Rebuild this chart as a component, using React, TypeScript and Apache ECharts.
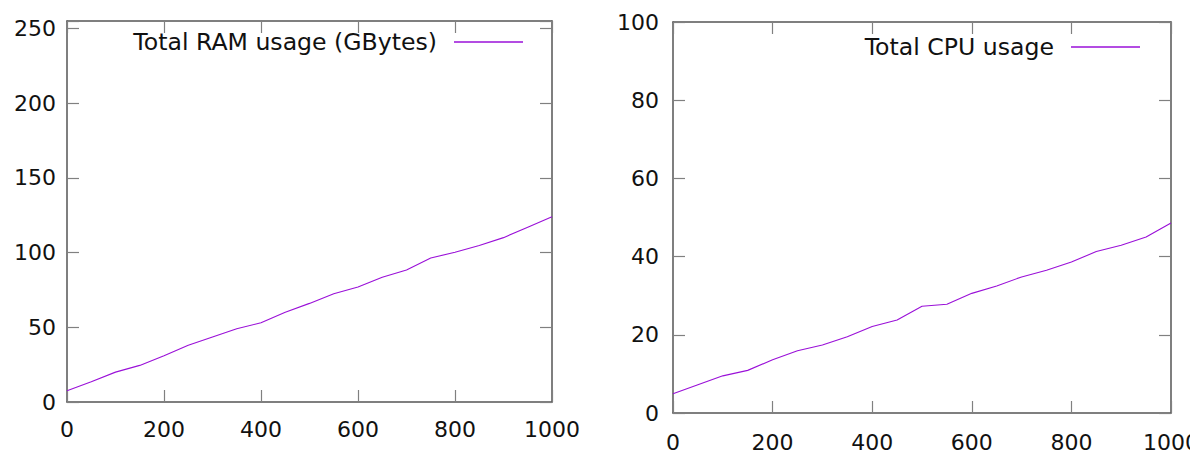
import React, { useEffect, useRef } from "react";
import * as echarts from "echarts";

const xValues = [0, 50, 100, 150, 200, 250, 300, 350, 400, 450, 500, 550, 600, 650, 700, 750, 800, 850, 900, 950, 1000];
const ramUsage = [7.5, 13.5, 20, 24.5, 31, 38, 43.5, 49, 53, 60, 66, 72.4, 77, 83.5, 88.4, 96.4, 100.2, 104.7, 110, 117, 124];
const cpuUsage = [4.9, 7.2, 9.5, 10.9, 13.6, 15.9, 17.4, 19.5, 22.1, 23.8, 27.3, 27.8, 30.6, 32.5, 34.8, 36.5, 38.6, 41.3, 42.9, 45.0, 48.6];
const ramName = "Total RAM usage (GBytes)";
const cpuName = "Total CPU usage";
const xTicks = { min: 0, max: 1000, interval: 200 };
const ramTicks = { min: 0, max: 255, interval: 50 };
const cpuTicks = { min: 0, max: 100, interval: 20 };

const FONT = "DejaVu Sans";
const LINE_COLOR = "#9a10d8";

type Cfg = {
  name: string;
  values: number[];
  yTicks: { min: number; max: number; interval: number };
  grid: { left: number; right: number; top: number; bottom: number };
  legend: { right: number; top: number };
  xLabelMargin: number;
  yLabelMargin: number;
};

function makeOption(cfg: Cfg) {
  const axisLine = { show: true, onZero: false, lineStyle: { color: "#555", width: 1.5 } };
  const axisTick = { show: true, inside: true, length: 12, lineStyle: { color: "#808080", width: 1.2 } };
  const label = { fontFamily: FONT, fontSize: 22, color: "#111" };
  const yInt = cfg.yTicks.interval;
  return {
    animation: false,
    backgroundColor: "#fff",
    grid: { ...cfg.grid, containLabel: false, outerBoundsMode: "none" },
    legend: {
      show: true,
      selectedMode: false,
      align: "right",
      right: cfg.legend.right,
      top: cfg.legend.top,
      padding: 0,
      icon: "rect",
      itemWidth: 69,
      itemHeight: 1.6,
      textStyle: { fontFamily: FONT, fontSize: 23.6, color: "#111", padding: [0, 12, 0, 0] },
      data: [cfg.name],
    },
    xAxis: [
      {
        type: "value",
        ...xTicks,
        position: "bottom",
        axisLine,
        axisTick,
        splitLine: { show: false },
        axisLabel: { ...label, margin: cfg.xLabelMargin, formatter: (v: number) => String(v) },
      },
      {
        type: "value",
        ...xTicks,
        position: "top",
        axisLine,
        axisTick,
        splitLine: { show: false },
        axisLabel: { show: false },
      },
    ],
    yAxis: [
      {
        type: "value",
        ...cfg.yTicks,
        position: "left",
        axisLine,
        axisTick,
        splitLine: { show: false },
        axisLabel: {
          ...label,
          margin: cfg.yLabelMargin,
          formatter: (v: number) => (v % yInt === 0 ? String(v) : ""),
        },
      },
      {
        type: "value",
        ...cfg.yTicks,
        position: "right",
        axisLine,
        axisTick,
        splitLine: { show: false },
        axisLabel: { show: false },
      },
    ],
    series: [
      {
        name: cfg.name,
        type: "line",
        xAxisIndex: 0,
        yAxisIndex: 0,
        data: xValues.map((x, i) => [x, cfg.values[i]]),
        symbol: "none",
        showSymbol: false,
        lineStyle: { color: LINE_COLOR, width: 1.1 },
        itemStyle: { color: LINE_COLOR },
      },
    ],
  };
}

function Chart({ cfg, style }: { cfg: Cfg; style: React.CSSProperties }) {
  const ref = useRef<HTMLDivElement>(null);
  useEffect(() => {
    if (!ref.current) return;
    const chart = echarts.init(ref.current, undefined, { renderer: "svg" });
    chart.setOption(makeOption(cfg) as any);
    return () => chart.dispose();
  }, [cfg]);
  return <div ref={ref} style={style} />;
}

const ramCfg: Cfg = {
  name: ramName,
  values: ramUsage,
  yTicks: ramTicks,
  grid: { left: 67, right: 28, top: 21, bottom: 51 },
  legend: { right: 57, top: 30 },
  xLabelMargin: 16,
  yLabelMargin: 11,
};

const cpuCfg: Cfg = {
  name: cpuName,
  values: cpuUsage,
  yTicks: cpuTicks,
  grid: { left: 73, right: 19, top: 22, bottom: 40 },
  legend: { right: 50, top: 35 },
  xLabelMargin: 18,
  yLabelMargin: 14,
};

export default function App() {
  return (
    <div
      style={{
        position: "fixed",
        left: 0,
        top: 0,
        width: 1196,
        height: 453,
        background: "#fff",
        overflow: "hidden",
      }}
    >
      <Chart cfg={ramCfg} style={{ position: "absolute", left: 0, top: 0, width: 580, height: 453 }} />
      <Chart cfg={cpuCfg} style={{ position: "absolute", left: 600, top: 0, width: 590, height: 453 }} />
    </div>
  );
}
